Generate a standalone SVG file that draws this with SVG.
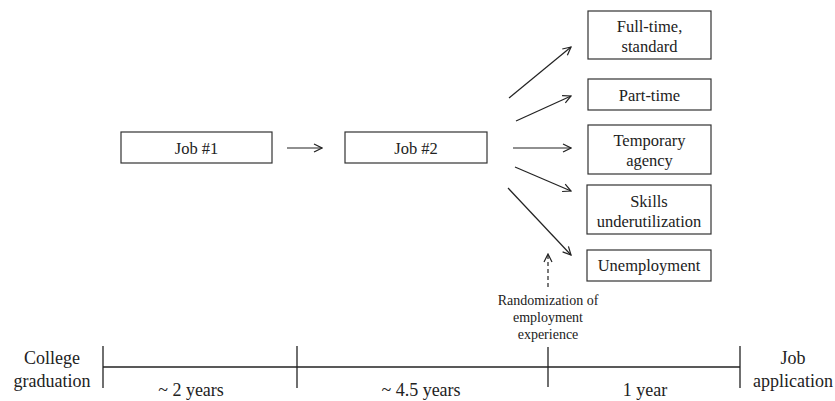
<svg xmlns="http://www.w3.org/2000/svg" width="835" height="401" viewBox="0 0 835 401">
<defs>
<marker id="ah" viewBox="0 0 10 10" refX="9" refY="5" markerWidth="10" markerHeight="10" markerUnits="userSpaceOnUse" orient="auto">
<path d="M1,1 L9,5 L1,9" fill="none" stroke="#222" stroke-width="1.2"/>
</marker>
</defs>
<style>
text{font-family:'Liberation Serif','Times New Roman',serif;fill:#222;text-anchor:middle}
.t{font-size:16.5px}
.L{font-size:18px}
.s{font-size:14px}
.box{fill:#fff;stroke:#333;stroke-width:1.2}
.c{stroke:#222;stroke-width:1.2;fill:none}
.tl{stroke:#222;stroke-width:1.3;fill:none}
</style>
<g id="job1"><rect class="box" x="121" y="132" width="151" height="31"/><text class="t" x="196.5" y="154">Job #1</text></g>
<g id="job2"><rect class="box" x="345" y="132" width="142" height="31"/><text class="t" x="416" y="154">Job #2</text></g>
<g id="fulltime"><rect class="box" x="588" y="11" width="123" height="48"/><text class="t" x="649.5" y="32">Full-time,</text><text class="t" x="649.5" y="52">standard</text></g>
<g id="parttime"><rect class="box" x="588" y="79" width="123" height="31"/><text class="t" x="649.5" y="100.5">Part-time</text></g>
<g id="temporary"><rect class="box" x="588" y="125" width="123" height="49"/><text class="t" x="649.5" y="146">Temporary</text><text class="t" x="649.5" y="166">agency</text></g>
<g id="skills"><rect class="box" x="587" y="185" width="124" height="49"/><text class="t" x="649" y="207">Skills</text><text class="t" x="649" y="227">underutilization</text></g>
<g id="unemployment"><rect class="box" x="587" y="250" width="124" height="31"/><text class="t" x="649" y="271">Unemployment</text></g>
<g id="connectors">
<line class="c" x1="287" y1="148" x2="322" y2="148" marker-end="url(#ah)"/>
<line class="c" x1="509" y1="98" x2="571" y2="47" marker-end="url(#ah)"/>
<line class="c" x1="516" y1="121" x2="571" y2="96" marker-end="url(#ah)"/>
<line class="c" x1="513" y1="148" x2="571" y2="148" marker-end="url(#ah)"/>
<line class="c" x1="515" y1="167" x2="571" y2="191" marker-end="url(#ah)"/>
<line class="c" x1="508" y1="188" x2="571" y2="255" marker-end="url(#ah)"/>
<line class="c" x1="548" y1="287" x2="548" y2="254" stroke-dasharray="4,3" marker-end="url(#ah)"/>
</g>
<g id="randomization">
<text class="s" x="548" y="305">Randomization of</text>
<text class="s" x="548" y="322">employment</text>
<text class="s" x="548" y="339">experience</text>
</g>
<g id="timeline">
<line class="tl" x1="103" y1="367" x2="740" y2="367"/>
<line class="tl" x1="103" y1="346" x2="103" y2="388"/>
<line class="tl" x1="297" y1="346" x2="297" y2="388"/>
<line class="tl" x1="548" y1="347" x2="548" y2="387"/>
<line class="tl" x1="740" y1="346" x2="740" y2="388"/>
<text class="L" x="52" y="364">College</text>
<text class="L" x="52" y="387">graduation</text>
<text class="L" x="191" y="396">~ 2 years</text>
<text class="L" x="421" y="396">~ 4.5 years</text>
<text class="L" x="645" y="396">1 year</text>
<text class="L" x="793" y="364">Job</text>
<text class="L" x="793" y="387">application</text>
</g>
</svg>
